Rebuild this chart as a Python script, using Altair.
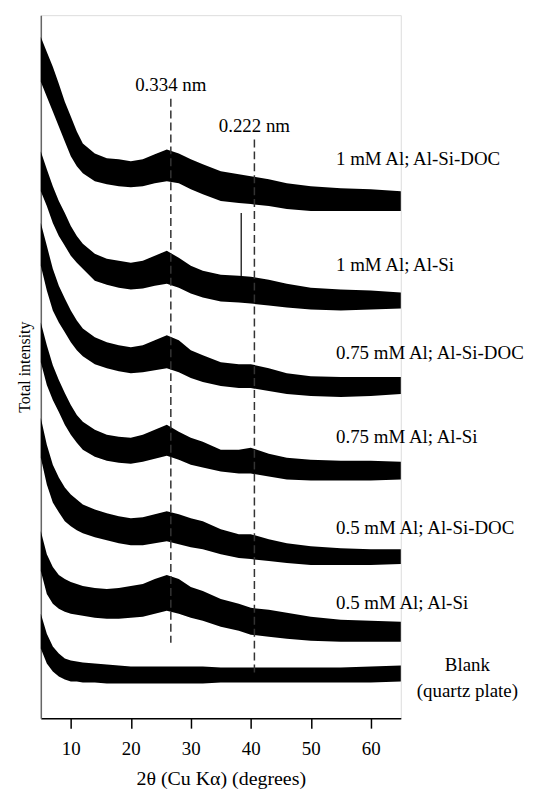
import altair as alt
import pandas as pd

# 2-theta sample positions (degrees)
theta = [5, 6, 7, 8, 9, 10, 11, 12, 14, 16, 18, 20, 22, 24, 26, 28, 30, 32, 35, 38, 40, 43, 46, 50, 55, 60, 65]

samples = [
    "1 mM Al; Al-Si-DOC",
    "1 mM Al; Al-Si",
    "0.75 mM Al; Al-Si-DOC",
    "0.75 mM Al; Al-Si",
    "0.5 mM Al; Al-Si-DOC",
    "0.5 mM Al; Al-Si",
    "Blank",
]

# upper / lower envelope of each noisy (offset) trace, arbitrary intensity units
upper_1 = [685, 670, 655, 638, 620, 605, 590, 578, 568, 563, 562, 560, 562, 567, 572, 568, 562, 557, 550, 547, 545, 542, 538, 535, 533, 532, 530]
lower_1 = [640, 625, 610, 595, 580, 565, 555, 548, 540, 537, 535, 534, 535, 538, 540, 538, 532, 527, 520, 518, 517, 515, 512, 510, 510, 510, 510]
upper_2 = [570, 552, 535, 520, 508, 495, 485, 477, 467, 462, 460, 458, 460, 465, 470, 463, 455, 450, 446, 445, 444, 441, 437, 433, 431, 430, 428]
lower_2 = [530, 515, 498, 485, 475, 465, 458, 452, 440, 436, 433, 431, 432, 435, 437, 433, 427, 423, 419, 418, 417, 415, 413, 411, 410, 411, 412]
upper_3 = [498, 475, 452, 435, 422, 410, 400, 392, 383, 378, 375, 373, 375, 380, 385, 380, 370, 365, 358, 356, 356, 352, 347, 344, 343, 343, 343]
lower_3 = [455, 430, 410, 398, 388, 378, 370, 364, 356, 352, 349, 347, 348, 350, 352, 348, 342, 338, 334, 332, 332, 329, 326, 324, 323, 324, 326]
upper_4 = [398, 375, 355, 340, 327, 315, 305, 298, 290, 285, 283, 282, 285, 290, 295, 288, 282, 278, 270, 270, 272, 266, 262, 260, 259, 259, 258]
lower_4 = [358, 335, 320, 308, 295, 285, 277, 270, 263, 259, 257, 256, 258, 261, 264, 260, 255, 252, 248, 246, 246, 243, 240, 239, 239, 239, 240]
upper_5 = [302, 275, 255, 242, 232, 225, 220, 215, 210, 206, 203, 201, 202, 205, 208, 205, 201, 198, 190, 185, 185, 180, 176, 173, 171, 170, 170]
lower_5 = [262, 235, 217, 207, 198, 193, 189, 186, 182, 179, 176, 174, 174, 176, 178, 175, 172, 170, 165, 161, 160, 158, 156, 154, 154, 154, 155]
upper_6 = [188, 165, 152, 144, 140, 137, 135, 133, 131, 130, 131, 133, 135, 140, 144, 140, 132, 128, 120, 115, 111, 109, 106, 102, 99, 98, 97]
lower_6 = [148, 125, 115, 110, 107, 105, 104, 103, 101, 100, 100, 101, 102, 105, 108, 105, 101, 98, 92, 88, 84, 82, 80, 78, 77, 77, 77]
upper_7 = [105, 85, 72, 65, 60, 58, 57, 56, 55, 54, 53, 52, 52, 52, 52, 52, 52, 52, 51, 51, 51, 51, 51, 51, 51, 52, 53]
lower_7 = [70, 55, 47, 42, 39, 37, 37, 36, 36, 35, 35, 35, 35, 35, 35, 35, 35, 35, 36, 36, 36, 36, 36, 36, 36, 36, 37]

uppers = [upper_1, upper_2, upper_3, upper_4, upper_5, upper_6, upper_7]
lowers = [lower_1, lower_2, lower_3, lower_4, lower_5, lower_6, lower_7]

# sharp reflection in the 1 mM Al; Al-Si pattern
spike_theta = [38.4]
spike_top = [508]
spike_base = [432]

# reference d-spacings (dashed lines)
ref_labels = ["0.334 nm", "0.222 nm"]
ref_theta = [26.67, 40.6]
ref_top = [623, 582]
ref_bottom = [76, 45]
ref_label_y = [637, 595]

# sample label anchors
label_text = ["1 mM Al; Al-Si-DOC", "1 mM Al; Al-Si", "0.75 mM Al; Al-Si-DOC",
              "0.75 mM Al; Al-Si", "0.5 mM Al; Al-Si-DOC", "0.5 mM Al; Al-Si"]
label_y = [562, 456, 367, 283, 191, 116]
label_x = [54.2] * 6
blank_text = ["Blank", "(quartz plate)"]
blank_y = [53, 27]
blank_x = [76.1, 76.1]

x_ticks = [10, 20, 30, 40, 50, 60]

rows = []
for s, up, lo in zip(samples, uppers, lowers):
    for t, u, l in zip(theta, up, lo):
        rows.append({"sample": s, "theta": t, "upper": u, "lower": l})
traces = pd.DataFrame(rows)

FONT = "Liberation Serif"

xscale = alt.Scale(domain=[5, 65], nice=False, zero=False)
yscale = alt.Scale(domain=[0, 707], nice=False, zero=False)

area = alt.Chart(traces).mark_area(color="black", opacity=1, interpolate="linear").encode(
    x=alt.X("theta:Q", scale=xscale,
            axis=alt.Axis(values=x_ticks, title="2θ (Cu Kα) (degrees)", tickSize=10,
                          labelPadding=11, titlePadding=11, grid=False,
                          domainColor="black", tickColor="black", domainWidth=1.5,
                          tickWidth=1.5, labelFontSize=19, titleFontSize=20,
                          labelColor="black", titleColor="black",
                          titleFontWeight="normal", labelFont=FONT, titleFont=FONT)),
    y=alt.Y("upper:Q", scale=yscale, stack=None,
            axis=alt.Axis(labels=False, ticks=False, grid=False, title="Total intensity",
                          domainColor="#666666", domainWidth=1.5, titlePadding=8,
                          titleFontSize=16, titleFontWeight="normal", titleFont=FONT,
                          titleColor="black")),
    y2="lower:Q",
    detail="sample:N",
)

spike = alt.Chart(pd.DataFrame({"theta": spike_theta, "top": spike_top, "base": spike_base})).mark_rule(
    color="black", strokeWidth=1.2).encode(
    x=alt.X("theta:Q", scale=xscale), y=alt.Y("top:Q", scale=yscale), y2="base:Q")

refdf = pd.DataFrame({"label": ref_labels, "theta": ref_theta, "top": ref_top,
                      "bottom": ref_bottom, "ly": ref_label_y})
dashes = alt.Chart(refdf).mark_rule(color="#333333", strokeWidth=1.5, strokeDash=[8, 4]).encode(
    x=alt.X("theta:Q", scale=xscale), y=alt.Y("top:Q", scale=yscale), y2="bottom:Q")
ref_text = alt.Chart(refdf).mark_text(font=FONT, fontSize=19, align="center", baseline="middle",
                                      color="black").encode(
    x=alt.X("theta:Q", scale=xscale), y=alt.Y("ly:Q", scale=yscale), text="label:N")

labdf = pd.DataFrame({"text": label_text, "x": label_x, "y": label_y})
labels = alt.Chart(labdf).mark_text(font=FONT, fontSize=19, align="left", baseline="middle",
                                    color="black").encode(
    x=alt.X("x:Q", scale=xscale), y=alt.Y("y:Q", scale=yscale), text="text:N")

blankdf = pd.DataFrame({"text": blank_text, "x": blank_x, "y": blank_y})
blank_labels = alt.Chart(blankdf).mark_text(font=FONT, fontSize=19, align="center",
                                            baseline="middle", color="black").encode(
    x=alt.X("x:Q", scale=xscale), y=alt.Y("y:Q", scale=yscale), text="text:N")

chart = alt.layer(area, spike, dashes, ref_text, labels, blank_labels).properties(
    width=362, height=707,
    autosize=alt.AutoSizeParams(type="none"),
    padding={"left": 33, "top": 5, "right": 142, "bottom": 70},
).configure_view(stroke=None).configure(font=FONT)

chart.save("out.html", embed_options={"renderer": "svg", "actions": False})
